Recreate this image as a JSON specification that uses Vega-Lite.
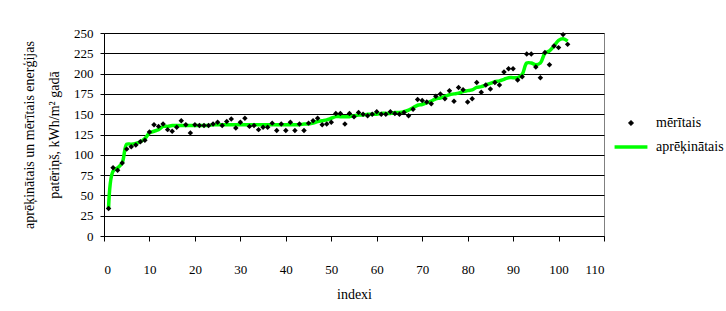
{
  "$schema": "https://vega.github.io/schema/vega-lite/v6.json",
  "width": 500,
  "height": 203,
  "autosize": "none",
  "padding": {"left": 104, "top": 33, "right": 122, "bottom": 75},
  "background": "white",
  "datasets": {
    "meas": [
      {"i":1,"v":34},{"i":2,"v":84},{"i":3,"v":81},{"i":4,"v":90},{"i":5,"v":107},{"i":6,"v":110},{"i":7,"v":112},{"i":8,"v":116},{"i":9,"v":118},{"i":10,"v":128},
      {"i":11,"v":137},{"i":12,"v":135},{"i":13,"v":138},{"i":14,"v":131},{"i":15,"v":129},{"i":16,"v":134},{"i":17,"v":142},{"i":18,"v":137},{"i":19,"v":127},{"i":20,"v":137},
      {"i":21,"v":136},{"i":22,"v":136},{"i":23,"v":136},{"i":24,"v":138},{"i":25,"v":140},{"i":26,"v":136},{"i":27,"v":141},{"i":28,"v":144},{"i":29,"v":133},{"i":30,"v":140},
      {"i":31,"v":145},{"i":32,"v":135},{"i":33,"v":136},{"i":34,"v":131},{"i":35,"v":134},{"i":36,"v":134},{"i":37,"v":139},{"i":38,"v":130},{"i":39,"v":138},{"i":40,"v":130},
      {"i":41,"v":140},{"i":42,"v":130},{"i":43,"v":138},{"i":44,"v":130},{"i":45,"v":139},{"i":46,"v":142},{"i":47,"v":145},{"i":48,"v":137},{"i":49,"v":138},{"i":50,"v":140},
      {"i":51,"v":151},{"i":52,"v":151},{"i":53,"v":138},{"i":54,"v":151},{"i":55,"v":147},{"i":56,"v":152},{"i":57,"v":150},{"i":58,"v":148},{"i":59,"v":150},{"i":60,"v":153},
      {"i":61,"v":150},{"i":62,"v":150},{"i":63,"v":153},{"i":64,"v":151},{"i":65,"v":150},{"i":66,"v":152},{"i":67,"v":148},{"i":68,"v":156},{"i":69,"v":168},{"i":70,"v":167},
      {"i":71,"v":165},{"i":72,"v":163},{"i":73,"v":172},{"i":74,"v":175},{"i":75,"v":169},{"i":76,"v":179},{"i":77,"v":166},{"i":78,"v":183},{"i":79,"v":180},{"i":80,"v":165},
      {"i":81,"v":169},{"i":82,"v":189},{"i":83,"v":177},{"i":84,"v":186},{"i":85,"v":181},{"i":86,"v":189},{"i":87,"v":186},{"i":88,"v":202},{"i":89,"v":206},{"i":90,"v":206},
      {"i":91,"v":192},{"i":92,"v":196},{"i":93,"v":224},{"i":94,"v":224},{"i":95,"v":208},{"i":96,"v":195},{"i":97,"v":226},{"i":98,"v":211},{"i":99,"v":234},{"i":100,"v":232},
      {"i":101,"v":248},{"i":102,"v":236}
    ],
    "calc": [
      {"i":1,"v":34},{"i":2,"v":80},{"i":3,"v":84},{"i":4,"v":90},{"i":5,"v":113},{"i":6,"v":113},{"i":7,"v":114},{"i":8,"v":116},{"i":9,"v":120},{"i":10,"v":127},
      {"i":11,"v":129},{"i":12,"v":131},{"i":13,"v":135},{"i":14,"v":135},{"i":15,"v":136},{"i":16,"v":136},{"i":17,"v":136},{"i":18,"v":136},{"i":19,"v":136},{"i":20,"v":136},
      {"i":21,"v":136},{"i":22,"v":136},{"i":23,"v":136},{"i":24,"v":137},{"i":25,"v":137},{"i":26,"v":137},{"i":27,"v":137},{"i":28,"v":137},{"i":29,"v":137},{"i":30,"v":137},
      {"i":31,"v":137},{"i":32,"v":137},{"i":33,"v":137},{"i":34,"v":137},{"i":35,"v":137},{"i":36,"v":137},{"i":37,"v":137},{"i":38,"v":137},{"i":39,"v":137},{"i":40,"v":137},
      {"i":41,"v":137},{"i":42,"v":137},{"i":43,"v":137},{"i":44,"v":138},{"i":45,"v":138},{"i":46,"v":139},{"i":47,"v":141},{"i":48,"v":142},{"i":49,"v":143},{"i":50,"v":145},
      {"i":51,"v":147},{"i":52,"v":147},{"i":53,"v":147},{"i":54,"v":147},{"i":55,"v":148},{"i":56,"v":149},{"i":57,"v":149},{"i":58,"v":150},{"i":59,"v":150},{"i":60,"v":150},
      {"i":61,"v":151},{"i":62,"v":151},{"i":63,"v":151},{"i":64,"v":152},{"i":65,"v":152},{"i":66,"v":153},{"i":67,"v":155},{"i":68,"v":158},{"i":69,"v":161},{"i":70,"v":162},
      {"i":71,"v":164},{"i":72,"v":166},{"i":73,"v":169},{"i":74,"v":170},{"i":75,"v":172},{"i":76,"v":174},{"i":77,"v":175},{"i":78,"v":176},{"i":79,"v":178},{"i":80,"v":179},
      {"i":81,"v":180},{"i":82,"v":183},{"i":83,"v":184},{"i":84,"v":186},{"i":85,"v":188},{"i":86,"v":190},{"i":87,"v":191},{"i":88,"v":193},{"i":89,"v":195},{"i":90,"v":195},
      {"i":91,"v":195},{"i":92,"v":199},{"i":93,"v":213},{"i":94,"v":213},{"i":95,"v":211},{"i":96,"v":213},{"i":97,"v":225},{"i":98,"v":228},{"i":99,"v":234},{"i":100,"v":241},
      {"i":101,"v":243},{"i":102,"v":240}
    ]
  },
  "config": {
    "font": "Liberation Serif",
    "view": {"stroke": "#808080", "strokeWidth": 1},
    "axis": {
      "domainColor": "#000000",
      "tickColor": "#000000",
      "labelColor": "#000000",
      "titleColor": "#000000",
      "labelFont": "Liberation Serif",
      "titleFont": "Liberation Serif",
      "labelFontSize": 13,
      "titleFontSize": 14,
      "titleFontWeight": "normal"
    },
    "legend": {"labelFont": "Liberation Serif", "labelFontSize": 14, "labelColor": "#000000"}
  },
  "encoding": {
    "x": {
      "field": "i",
      "type": "quantitative",
      "scale": {"domain": [0, 110], "nice": false},
      "axis": {
        "values": [0, 10, 20, 30, 40, 50, 60, 70, 80, 90, 100, 110],
        "grid": false,
        "tickSize": 5,
        "labelPadding": 22,
        "title": "indexi",
        "titlePadding": 11
      }
    },
    "y": {
      "field": "v",
      "type": "quantitative",
      "scale": {"domain": [0, 250], "nice": false},
      "axis": {
        "values": [0, 25, 50, 75, 100, 125, 150, 175, 200, 225, 250],
        "grid": true,
        "gridColor": "#000000",
        "gridWidth": 1,
        "gridOpacity": 1,
        "tickSize": 4,
        "labelPadding": 7,
        "title": ["aprēķinātais un mērītais enerģijas", "patēriņš, kWh/m² gadā"],
        "titleLineHeight": 25,
        "titlePadding": 12
      }
    }
  },
  "layer": [
    {
      "data": {"name": "calc"},
      "mark": {"type": "line", "interpolate": "catmull-rom", "strokeWidth": 3.5},
      "encoding": {
        "color": {
          "datum": "aprēķinātais",
          "scale": {"domain": ["mērītais", "aprēķinātais"], "range": ["#000000", "#00FF00"]},
          "legend": {
            "title": null,
            "orient": "none",
            "legendX": 520,
            "legendY": 83,
            "symbolSize": 30,
            "labelOffset": 18,
            "rowPadding": 10,
            "padding": 0,
            "encode": {
              "symbols": {
                "update": {
                  "shape": {"signal": "datum.value === 'mērītais' ? 'diamond' : 'M-6,0L6,0'"},
                  "fill": {"signal": "datum.value === 'mērītais' ? '#000000' : 'transparent'"},
                  "stroke": {"signal": "datum.value === 'mērītais' ? '#000000' : '#00FF00'"},
                  "strokeWidth": {"signal": "datum.value === 'mērītais' ? 0.5 : 3.5"},
                  "opacity": {"value": 1}
                }
              }
            }
          }
        }
      }
    },
    {
      "data": {"name": "meas"},
      "mark": {"type": "point", "shape": "diamond", "filled": true, "size": 30, "opacity": 1},
      "encoding": {
        "color": {"datum": "mērītais"}
      }
    }
  ]
}
